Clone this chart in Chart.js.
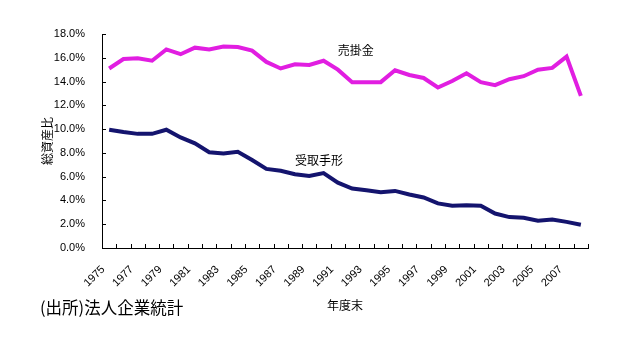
<!DOCTYPE html>
<html>
<head>
<meta charset="utf-8">
<script src="https://cdn.jsdelivr.net/npm/chart.js@4"></script>
<style>
    body { margin: 0; background: #fff; }
    #wrap { position: relative; width: 638px; height: 340px; }
    #source {
        position: absolute; left: 40px; top: 295px;
        font: 16.5px "Noto Sans CJK JP", sans-serif; color: #000;
    }
</style>
</head>
<body>
<div id="wrap">
    <canvas id="chartShisan" width="638" height="340"></canvas>
    <div id="source">(出所)法人企業統計</div>
</div>
<script>
const nendo = ['1975', '1976', '1977', '1978', '1979', '1980', '1981', '1982', '1983', '1984',
    '1985', '1986', '1987', '1988', '1989', '1990', '1991', '1992', '1993', '1994',
    '1995', '1996', '1997', '1998', '1999', '2000', '2001', '2002', '2003', '2004',
    '2005', '2006', '2007', '2008'];
const urikakekin = [15.1, 15.9, 15.95, 15.75, 16.7, 16.3, 16.85, 16.7, 16.95, 16.9,
    16.6, 15.65, 15.1, 15.45, 15.4, 15.75, 15.0, 13.95, 13.95, 13.95,
    14.95, 14.55, 14.3, 13.5, 14.05, 14.7, 13.95, 13.7, 14.2, 14.45,
    15.0, 15.15, 16.1, 12.8];
const uketoriTegata = [9.95, 9.75, 9.6, 9.6, 9.95, 9.3, 8.8, 8.05, 7.95, 8.1,
    7.4, 6.65, 6.5, 6.2, 6.05, 6.3, 5.5, 5.0, 4.85, 4.7,
    4.8, 4.5, 4.25, 3.75, 3.55, 3.6, 3.55, 2.9, 2.6, 2.55,
    2.3, 2.4, 2.2, 1.95];
const yTicks = [0, 2, 4, 6, 8, 10, 12, 14, 16, 18];

const jpFont = '"Noto Sans CJK JP", sans-serif';

Chart.defaults.font.family = '"Liberation Sans", "Noto Sans CJK JP", sans-serif';
Chart.defaults.font.size = 11;
Chart.defaults.color = '#000';

// reeks-labels in de grafiek en kleine maatstreepjes naar binnen (Excel-stijl)
const extraPlugin = {
    id: 'extra',
    afterDraw(chart) {
        const ctx = chart.ctx;
        const x = chart.scales.x;
        const y = chart.scales.y;
        const area = chart.chartArea;
        ctx.save();
        ctx.strokeStyle = '#000';
        ctx.lineWidth = 1;
        ctx.beginPath();
        yTicks.forEach(v => {
            const py = Math.round(y.getPixelForValue(v)) + 0.5;
            ctx.moveTo(area.left, py);
            ctx.lineTo(area.left + 4, py);
        });
        for (let i = 0; i <= nendo.length; i++) {
            const px = Math.round(x.getPixelForValue(i - 0.5)) + 0.5;
            ctx.moveTo(px, area.bottom);
            ctx.lineTo(px, area.bottom - 4);
        }
        ctx.stroke();

        ctx.font = '12px ' + jpFont;
        ctx.fillStyle = '#000';
        ctx.textBaseline = 'middle';
        chart.options.plugins.extra.labels.forEach(l => {
            ctx.fillText(l.text, x.getPixelForValue(l.index), y.getPixelForValue(l.value));
        });
        ctx.restore();
    }
};

const ctx = document.getElementById('chartShisan').getContext('2d');
const chartShisan = new Chart(ctx, {
    type: 'line',
    data: {
        labels: nendo,
        datasets: [
            {
                label: '売掛金',
                data: urikakekin,
                borderColor: 'rgb(225, 30, 225)',
                borderWidth: 4,
                pointRadius: 0,
                tension: 0
            },
            {
                label: '受取手形',
                data: uketoriTegata,
                borderColor: 'rgb(20, 20, 110)',
                borderWidth: 4,
                pointRadius: 0,
                tension: 0
            }
        ]
    },
    options: {
        responsive: false,
        animation: false,
        layout: {
            padding: {top: 34, right: 50, bottom: 0, left: 0}
        },
        scales: {
            x: {
                type: 'category',
                offset: true,
                grid: {display: false},
                border: {color: '#000', width: 1},
                ticks: {
                    autoSkip: false,
                    maxRotation: 45,
                    minRotation: 45,
                    padding: 7,
                    labelOffset: -6,
                    callback: function (value, index) {
                        return index % 2 === 0 ? nendo[index] : '';
                    }
                },
                title: {
                    display: true,
                    text: '年度末',
                    font: {family: jpFont, size: 12},
                    padding: {bottom: 27}
                },
                afterFit: function (scale) {
                    scale.height = 92;
                }
            },
            y: {
                min: 0,
                max: 18,
                grid: {display: false},
                border: {color: '#000', width: 1},
                ticks: {
                    stepSize: 2,
                    padding: 9,
                    callback: function (value) {
                        return value.toFixed(1) + '%';
                    }
                },
                title: {
                    display: true,
                    text: '総資産比',
                    font: {family: jpFont, size: 12},
                    padding: {top: 40}
                },
                afterFit: function (scale) {
                    scale.width = 102;
                }
            }
        },
        plugins: {
            legend: {display: false},
            tooltip: {enabled: false},
            extra: {
                labels: [
                    {text: '売掛金', index: 16, value: 16.6},
                    {text: '受取手形', index: 13, value: 7.4}
                ]
            }
        }
    },
    plugins: [extraPlugin]
});
</script>
</body>
</html>
